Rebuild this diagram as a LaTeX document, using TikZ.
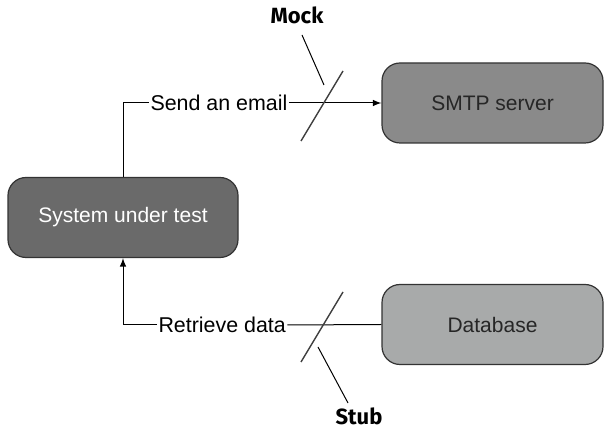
\documentclass[tikz,border=0pt]{standalone}
\usepackage{fontspec}
\setmainfont{Liberation Sans}
\newfontfamily\tagfont{Fira Sans}
\usetikzlibrary{positioning}

\definecolor{sutgray}{HTML}{6A6A6A}
\definecolor{smtpgray}{HTML}{8A8A8A}
\definecolor{dbgray}{HTML}{A8AAAA}
\definecolor{edgegray}{HTML}{333333}

\tikzset{
    box/.style={draw=edgegray, line width=0.6pt, rounded corners=9pt,
        minimum width=110.5pt, minimum height=40pt, font=\fontsize{10.5}{12}\selectfont},
    msg/.style={inner sep=0.5pt, font=\fontsize{10.7}{12}\selectfont},
    tag/.style={font=\tagfont\bfseries\fontsize{11}{13}\selectfont},
    slash/.style={draw=black!75, line width=0.7pt},
}

\begin{document}
\begin{tikzpicture}[x=0.5pt, y=-0.5pt, >=latex, line width=0.5pt]
    \useasboundingbox (0,0) rectangle (604,431);

    \node[box, fill=sutgray, text=white, minimum width=115pt] (sut) at (123,217.5) {System under test};
    \node[box, fill=smtpgray, text=black!85] (smtp) at (492.5,103) {SMTP server};
    \node[box, fill=dbgray, text=black!85] (db) at (492.5,324.5) {Database};

    \node[msg, anchor=west] (send) at (149,103) {Send an email};
    \node[msg, anchor=west] (fetch) at (157,325) {Retrieve data};

    % outgoing call: mocked
    \draw (sut.north) |- (send.west);
    \draw[->] (send.east) -- (smtp.west);

    % incoming data: stubbed
    \draw (db.west) -- (fetch.east);
    \draw[->] (fetch.west) -| (sut.south);

    % cut marks
    \draw[slash] (343,71) -- (301,141);
    \draw[slash] (343,292) -- (301,362);

    \node[tag] (mock) at (297,15.5) {Mock};
    \node[tag] (stub) at (359,416.5) {Stub};
    \coordinate (mockend) at (324,85);
    \coordinate (stubend) at (318,347);
    \draw (302,35) -- (mockend);
    \draw (348,403) -- (stubend);
\end{tikzpicture}
\end{document}
